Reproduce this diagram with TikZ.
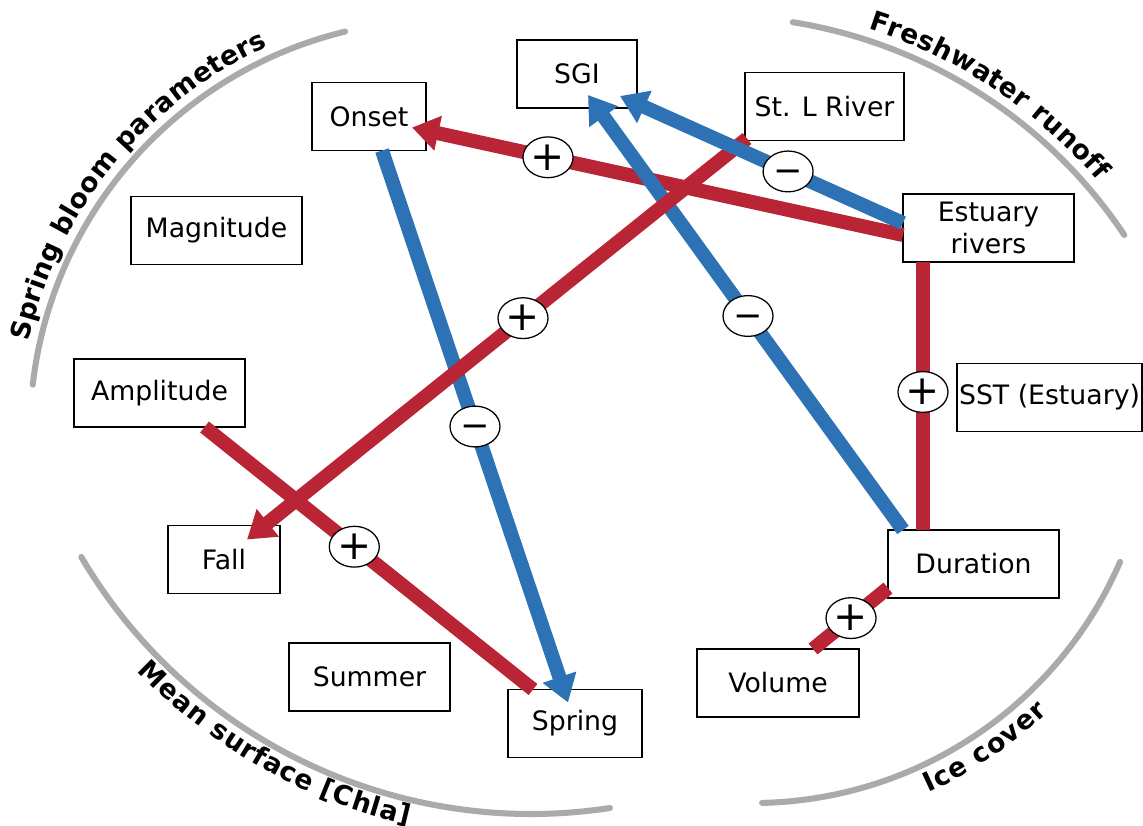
\documentclass[tikz,border=0pt]{standalone}
\usepackage{fontspec}
\setmainfont{DejaVu Sans}
\usetikzlibrary{arrows.meta,calc,decorations.text,shapes.geometric}
\definecolor{cred}{RGB}{185,37,52}
\definecolor{cblue}{RGB}{44,114,180}
\definecolor{cgray}{RGB}{170,170,170}
\newcommand{\labfont}{\fontsize{19}{23}\selectfont\bfseries}
\newcommand{\negsign}{{\fontsize{25}{25}\selectfont\vphantom{+}−}}
\begin{document}
\begin{tikzpicture}[x=0.025cm,y=0.025cm,
  box/.style={draw=black, line width=1.1pt, fill=white, minimum height=1.7cm, inner sep=0pt, outer sep=0pt, font=\fontsize{19}{23}\selectfont, align=center},
  sign/.style={ellipse, draw=black, line width=0.9pt, fill=white, minimum width=1.25cm, minimum height=1.02cm, inner sep=0pt, font=\fontsize{29}{29}\selectfont, text=black},
  link/.style={line width=10pt},
  redlink/.style={link, draw=cred},
  bluelink/.style={link, draw=cblue},
  tipped/.style={-{Triangle[length=19pt,width=24pt]}},
  arcline/.style={draw=cgray, line width=4.3pt, line cap=round}
]
\useasboundingbox (0,0) rectangle (1143,-825);

% grey arcs
\draw[arcline] (442,-432) ++(173.4:412) arc[start angle=173.4, end angle=103.6, radius=412];
\draw[arcline] (715,-508) ++(80.9:492) arc[start angle=80.9, end angle=33.7, radius=492];
\draw[arcline] (753,-403) ++(-88.7:400) arc[start angle=-88.7, end angle=-23.4, radius=400];
\draw[arcline] (531,-292) ++(-149.5:522) arc[start angle=-149.5, end angle=-81.3, radius=522];

% arc labels
\path[decorate, decoration={text along path, text={|\labfont|Spring bloom parameters}, raise=0.27cm, text align={align=center, right indent=0.9cm}}]
  (442,-432) ++(173.4:412) arc[start angle=173.4, end angle=103.6, radius=412];
\path[decorate, decoration={text along path, text={|\labfont|Freshwater runoff}, raise=0.28cm, text align={align=center, left indent=0.4cm}}]
  (715,-508) ++(80.9:492) arc[start angle=80.9, end angle=33.7, radius=492];
\path[decorate, decoration={text along path, text={|\labfont|Ice cover}, raise=-0.68cm, text align={align=center}}]
  (753,-403) ++(-88.7:400) arc[start angle=-88.7, end angle=-23.4, radius=400];
\path[decorate, decoration={text along path, text={|\labfont|Mean surface [Chla]}, raise=-0.62cm, text align={align=center, right indent=1.9cm}}]
  (531,-292) ++(-149.5:522) arc[start angle=-149.5, end angle=-81.3, radius=522];

% boxes
\node[box, minimum width=3cm]     (sgi)    at (577,-74)     {SGI};
\node[box, minimum width=2.85cm]  (onset)  at (369,-116.5)  {Onset};
\node[box, minimum width=3.975cm] (stl)    at (824.5,-106.5){St. L River};
\node[box, minimum width=4.275cm] (mag)    at (216.5,-230.5){Magnitude};
\node[box, minimum width=4.275cm] (est)    at (988.5,-228)  {Estuary\\rivers};
\node[box, minimum width=4.275cm] (amp)    at (159.5,-393)  {Amplitude};
\node[box, minimum width=4.625cm] (sst)    at (1049.5,-397.5){SST (Estuary)};
\node[box, minimum width=2.8cm]   (fall)   at (224,-559.5)  {Fall};
\node[box, minimum width=4.275cm] (dur)    at (973.5,-564)  {Duration};
\node[box, minimum width=4.025cm] (summer) at (369.5,-677)  {Summer};
\node[box, minimum width=4.05cm]  (vol)    at (778,-683)    {Volume};
\node[box, minimum width=3.35cm]  (spring) at (575,-723.5)  {Spring};

% connectors
\draw[redlink, tipped] ($(est.west)+(0,-7)$) -- node[sign, pos=0.723] {+} ($(onset.center)+(43,-11)$);
\draw[bluelink, tipped] ($(dur.north west)+(15,0)$) -- node[sign, pos=0.492] {\negsign} ($(sgi.center)+(11,-21)$);
\draw[bluelink, tipped] ($(onset.south)+(13,0)$) -- node[sign, pos=0.5] {\negsign} ($(spring.center)+(-7,21)$);
\draw[redlink, tipped] ($(stl.south west)+(2,2)$) -- node[sign, pos=0.448] {+} ($(fall.center)+(23,20)$);
\draw[bluelink, tipped] ($(est.west)+(0,5)$) -- node[sign, pos=0.406] {\negsign} ($(sgi.center)+(43,-22)$);
\draw[redlink] ($(est.south west)+(20,0)$) -- node[sign, pos=0.485] {+} ($(dur.north west)+(35,0)$);
\draw[redlink] ($(amp.south)+(45,0)$) -- node[sign, pos=0.456] {+} ($(spring.north)+(-42,0)$);
\draw[redlink] ($(vol.north)+(35,0)$) -- node[sign, pos=0.507] {+} ($(dur.west)+(0,-24)$);
\end{tikzpicture}
\end{document}
